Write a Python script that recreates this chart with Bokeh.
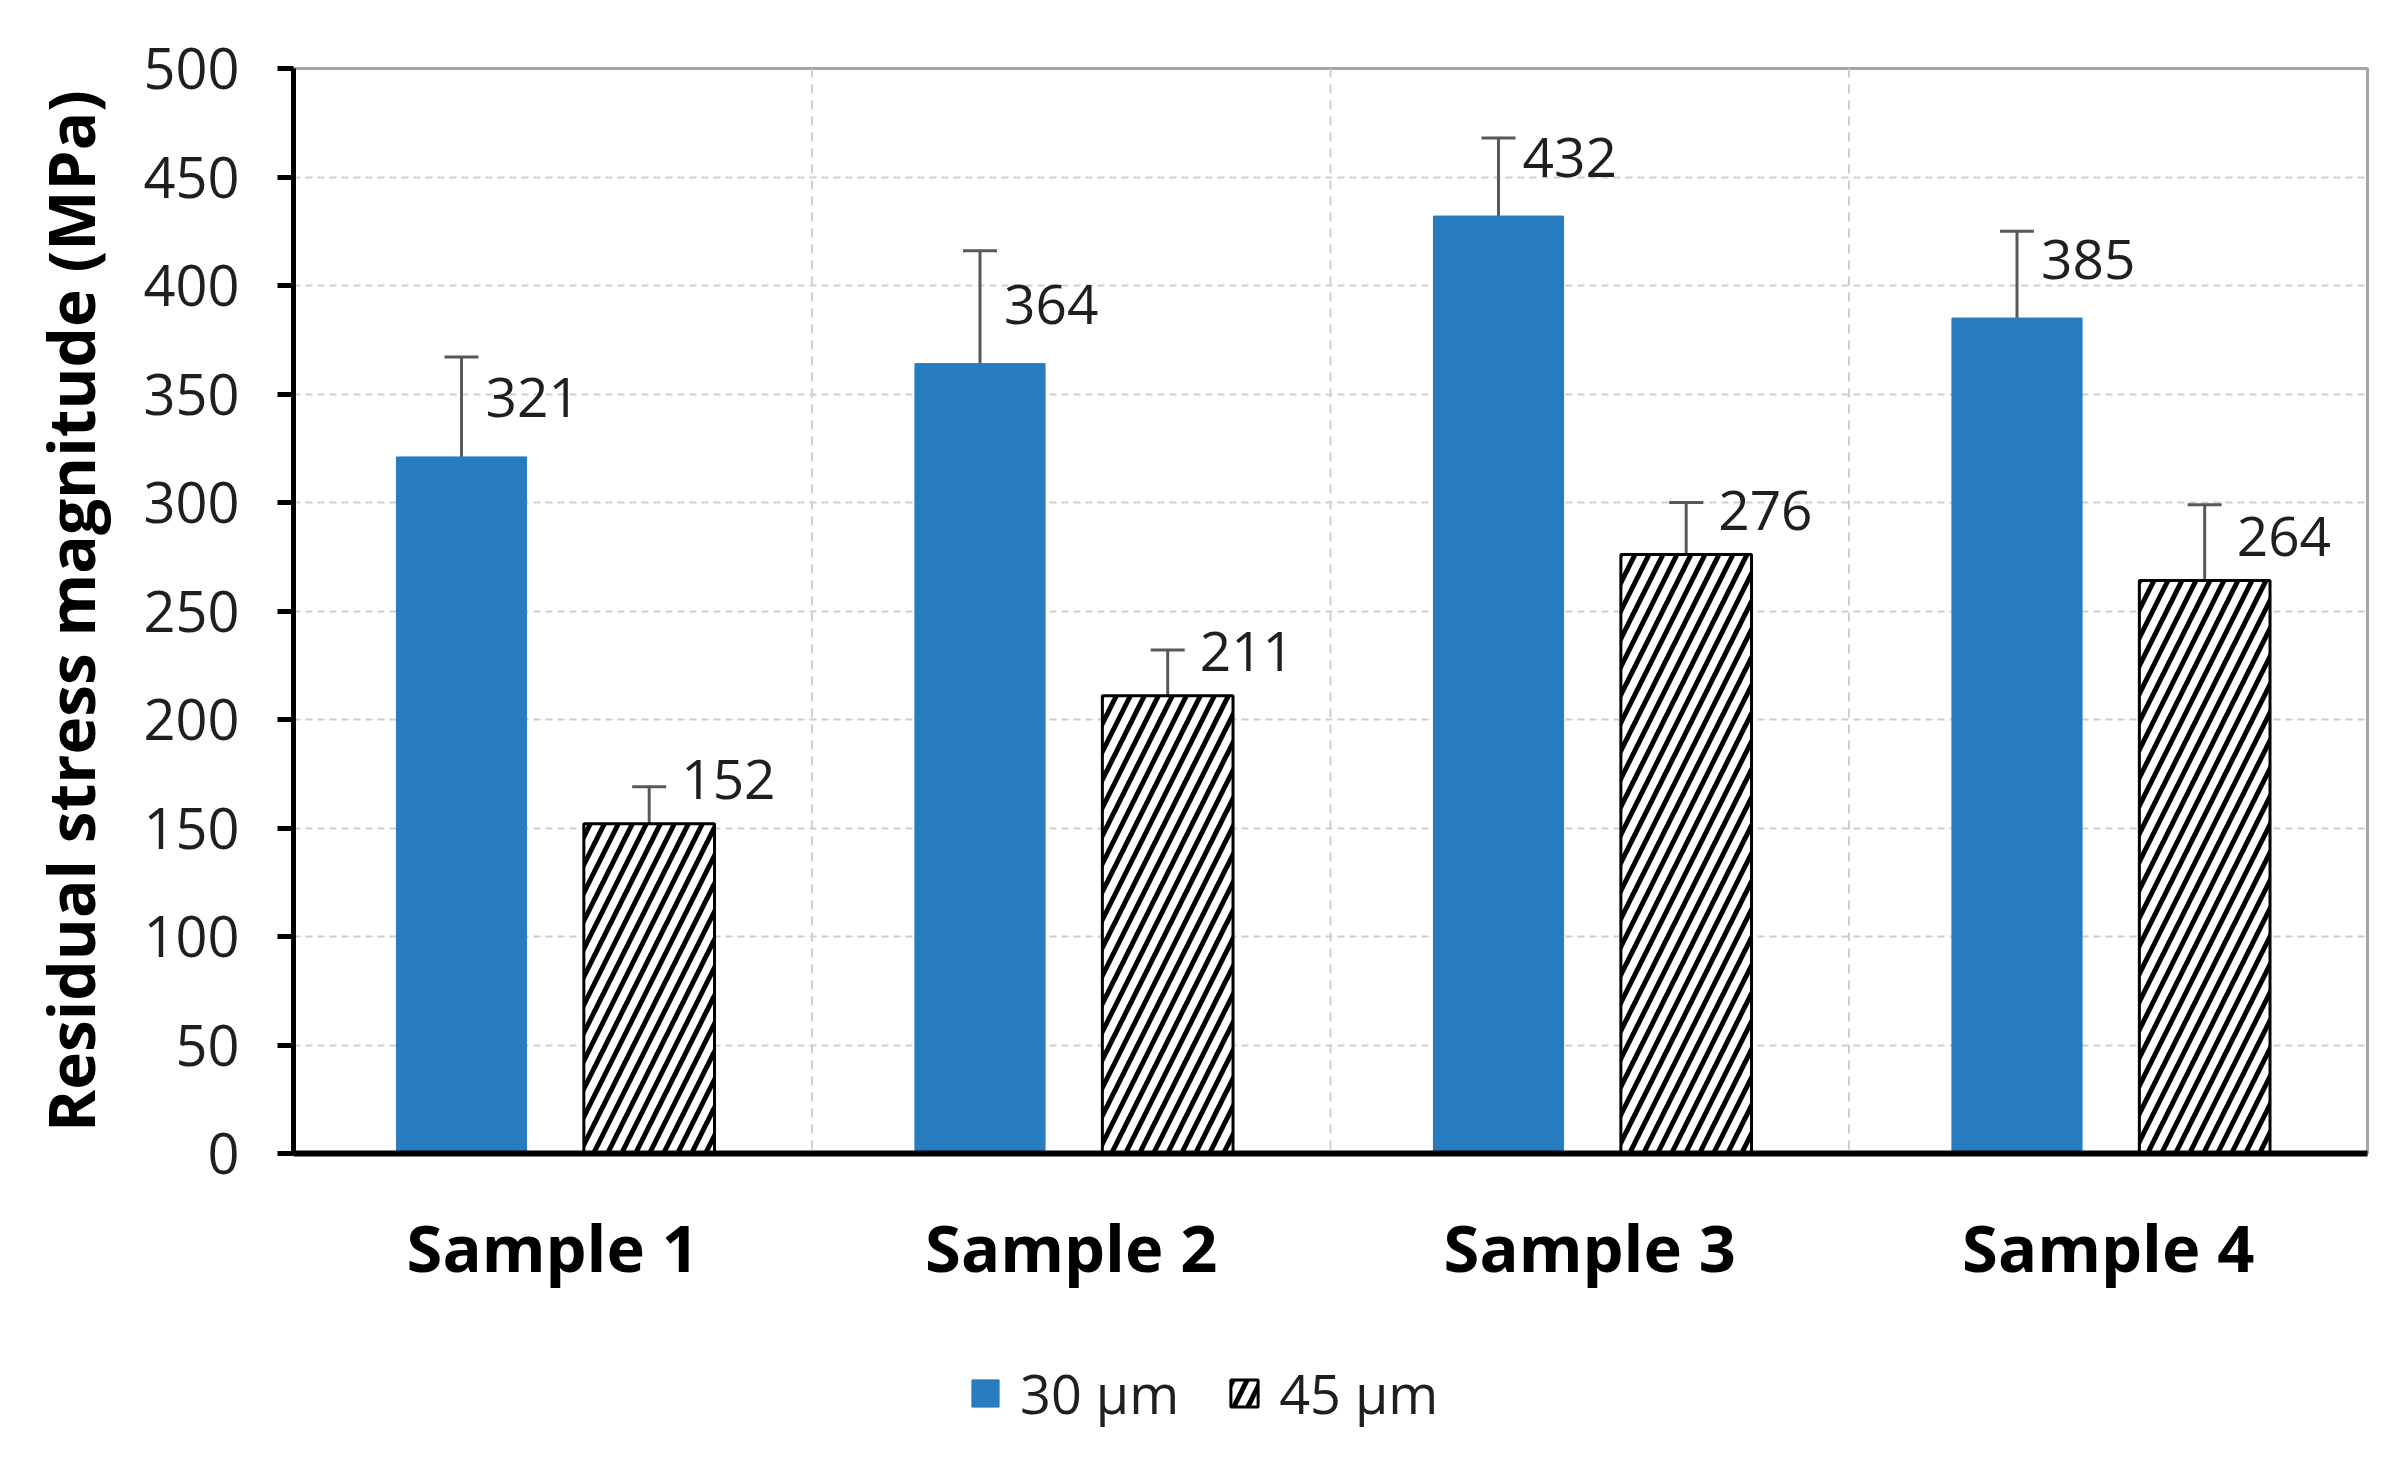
from bokeh.plotting import figure
from bokeh.layouts import column
from bokeh.models import (ColumnDataSource, FactorRange, Range1d, Whisker, TeeHead,
                          Legend, LegendItem, Span, FixedTicker)
from bokeh.transform import dodge
from bokeh.core.properties import value
from bokeh.embed import file_html
from bokeh.resources import INLINE

samples = ["Sample 1", "Sample 2", "Sample 3", "Sample 4"]
stress_30 = [321, 364, 432, 385]
stress_45 = [152, 211, 276, 264]
err_30 = [46, 52, 36, 40]
err_45 = [17, 21, 24, 35]
series_names = ["30 µm", "45 µm"]
y_ticks = [0, 50, 100, 150, 200, 250, 300, 350, 400, 450, 500]

FONT = "Open Sans"
BLUE = "#277CC0"
ERR = "#595959"
TXT = "#1f1f1f"
W, H_MAIN, H_LEG = 2384, 1338, 109

src = ColumnDataSource(dict(
    sample=samples,
    v30=stress_30, v45=stress_45,
    up30=[v + e for v, e in zip(stress_30, err_30)],
    lo30=[v - e for v, e in zip(stress_30, err_30)],
    up45=[v + e for v, e in zip(stress_45, err_45)],
    lo45=[v - e for v, e in zip(stress_45, err_45)],
    lab30=[str(v) for v in stress_30],
    lab45=[str(v) for v in stress_45],
))

p = figure(x_range=FactorRange(factors=samples, range_padding=0),
           y_range=Range1d(0, 500),
           width=W, height=H_MAIN, output_backend="svg", toolbar_location=None,
           min_border_left=293, min_border_right=17, min_border_top=68,
           min_border_bottom=185)
p.background_fill_color = "white"
p.border_fill_color = "white"
p.outline_line_color = "#a6a6a6"
p.outline_line_width = 3

OFF30, OFF45 = -0.176, 0.186

bar30 = dict(fill_color=BLUE, line_color=BLUE)
bar45 = dict(fill_color="white", line_color="black", line_width=3,
             hatch_pattern="/", hatch_color="black", hatch_scale=28, hatch_weight=5)

r30 = p.vbar(x=dodge("sample", OFF30, range=p.x_range), top="v30", width=0.251,
             source=src, **bar30)
r45 = p.vbar(x=dodge("sample", OFF45, range=p.x_range), top="v45", width=0.252,
             source=src, **bar45)

for off, up, lo in [(OFF30, "up30", "lo30"), (OFF45, "up45", "lo45")]:
    w = Whisker(base=dodge("sample", off, range=p.x_range), upper=up, lower=lo,
                source=src, line_color=ERR, line_width=3,
                upper_head=TeeHead(size=34, line_color=ERR, line_width=3),
                lower_head=TeeHead(size=34, line_color=ERR, line_width=3))
    p.add_layout(w)

for off, col, dx, dy in [(OFF30, "lab30", 24, -59), (OFF45, "lab45", 32, -44)]:
    p.text(x=dodge("sample", off, range=p.x_range), y=col.replace("lab", "v"), text=col,
           source=src, x_offset=dx, y_offset=dy, text_align="left",
           text_baseline="middle", text_font=value(FONT), text_font_size="55px",
           text_color=TXT)

for loc in [1, 2, 3]:
    p.add_layout(Span(location=loc, dimension="height", line_color="#cfcfcf",
                      line_width=2, line_dash="9 7", level="underlay"))

p.xgrid.grid_line_color = None
p.ygrid.grid_line_color = "#cfcfcf"
p.ygrid.grid_line_width = 2
p.ygrid.grid_line_dash = "7 5"

xa = p.xaxis[0]
xa.axis_line_color = "black"
xa.axis_line_width = 6
xa.major_tick_line_color = None
xa.minor_tick_line_color = None
xa.major_label_text_font = FONT
xa.major_label_text_font_style = "bold"
xa.major_label_text_font_size = "65px"
xa.major_label_text_color = "black"
xa.major_label_standoff = 43

ya = p.yaxis[0]
ya.ticker = FixedTicker(ticks=y_ticks)
ya.axis_line_color = "black"
ya.axis_line_width = 5
ya.major_tick_out = 16
ya.major_tick_in = 0
ya.major_tick_line_width = 5
ya.major_tick_line_color = "black"
ya.minor_tick_line_color = None
ya.major_label_text_font = FONT
ya.major_label_text_font_size = "56px"
ya.major_label_text_color = TXT
ya.major_label_standoff = 38
ya.axis_label = "Residual stress magnitude (MPa)"
ya.axis_label_text_font = FONT
ya.axis_label_text_font_style = "bold"
ya.axis_label_text_font_size = "64px"
ya.axis_label_text_color = "black"
ya.axis_label_standoff = 26

# legend strip below the chart (its frame is aligned with the chart's frame)
pl = figure(width=W, height=H_LEG, output_backend="svg", toolbar_location=None,
            x_axis_type=None, y_axis_type=None,
            x_range=Range1d(0, 1), y_range=Range1d(0, 1), min_border=0)
pl.outline_line_color = None
pl.background_fill_color = "white"
pl.border_fill_color = "white"
proxy = ColumnDataSource(dict(x=[0.5], top=[0.5]))
l30 = pl.vbar(x="x", top="top", width=0.1, source=proxy, **bar30)
l45 = pl.vbar(x="x", top="top", width=0.1, source=proxy, **bar45)
l30.visible = False
l45.visible = False

legend = Legend(items=[LegendItem(label=series_names[0], renderers=[l30]),
                       LegendItem(label=series_names[1], renderers=[l45])],
                orientation="horizontal", location=(675, 17),
                glyph_width=34, glyph_height=34, label_standoff=18, spacing=48,
                label_text_font=FONT, label_text_font_size="54px",
                label_text_color=TXT, border_line_color=None,
                background_fill_alpha=0, padding=0, margin=0)
pl.add_layout(legend, "center")

layout = column(p, pl, spacing=0)
open("out.html", "w").write(file_html(layout, INLINE))
